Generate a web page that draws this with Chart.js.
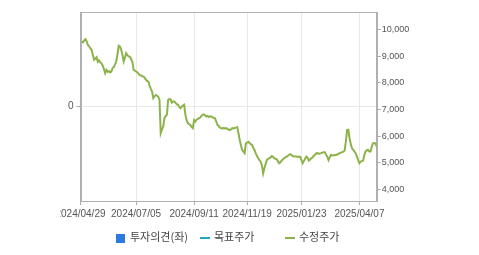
<!DOCTYPE html>
<html>
<head>
<meta charset="utf-8">
<script src="https://cdn.jsdelivr.net/npm/chart.js@4"></script>
<style>
  body { margin: 0; background: #fff; }
  #wrap { position: relative; width: 479px; height: 255px; }
  #myChart { position: absolute; left: 0; top: 0; clip-path: inset(0 0 0 60px); }
  .lg { position: absolute; top: 228px; font: 11px "Noto Sans CJK KR", sans-serif; color: #444; white-space: nowrap; line-height: 16px; }
  .lg i { display: inline-block; vertical-align: middle; margin-right: 5px; }
</style>
</head>
<body>
<div id="wrap">
  <canvas id="myChart" width="479" height="255"></canvas>
</div>
<script>
// x axis labels (trading-day index -> date)
let tickIdx = [0, 45, 92, 135, 179, 226];
let tickLabels = ["2024/04/29", "2024/07/05", "2024/09/11", "2024/11/19", "2025/01/23", "2025/04/07"];
let priceTicks = [4000, 5000, 6000, 7000, 8000, 9000, 10000];
let seriesNames = ["투자의견(좌)", "목표주가", "수정주가"];
let seriesColors = ["#2a7ae2", "#1fa8b8", "#8cb34a"];

// 수정주가, one value per trading day
let price = [
  9500, 9560, 9530, 9600, 9650, 9560, 9430, 9380, 9300, 9250,
  9050, 8870, 8920, 8970, 8800, 8850, 8780, 8740, 8650, 8520,
  8370, 8490, 8420, 8450, 8400, 8430, 8560, 8600, 8700, 8810,
  9100, 9400, 9370, 9250, 9060, 8810, 8950, 9120, 9050, 9000,
  8990, 8900, 8810, 8500, 8470, 8430, 8400, 8350, 8300, 8280,
  8260, 8240, 8200, 8120, 8080, 8050, 7900, 7780, 7680, 7430,
  7500, 7550, 7520, 7490, 7360, 6110, 6250, 6360, 6670, 6760,
  6800, 7360, 7400, 7380, 7260, 7300, 7300, 7250, 7200, 7180,
  7100, 7050, 7110, 7150, 7180, 6800, 6600, 6490, 6450, 6420,
  6350, 6300, 6600, 6550, 6620, 6650, 6670, 6700, 6760, 6800,
  6820, 6780, 6740, 6760, 6720, 6750, 6740, 6710, 6690, 6670,
  6550, 6420, 6380, 6320, 6300, 6280, 6310, 6290, 6300, 6270,
  6250, 6230, 6260, 6300, 6290, 6310, 6320, 6340, 6110, 5860,
  5650, 5480, 5420, 5360, 5730, 5760, 5790, 5740, 5700, 5670,
  5560, 5480, 5350, 5250, 5170, 5100, 5040, 4900, 4600, 4790,
  4950, 5100, 5150, 5170, 5200, 5250, 5220, 5170, 5150, 5130,
  5050, 4980, 5020, 5080, 5130, 5170, 5200, 5230, 5260, 5300,
  5320, 5290, 5250, 5240, 5230, 5230, 5220, 5230, 5220, 5100,
  4980, 5060, 5150, 5230, 5180, 5080, 5120, 5170, 5200, 5260,
  5300, 5350, 5360, 5340, 5350, 5360, 5380, 5390, 5390, 5300,
  5230, 5100, 5200, 5290, 5280, 5270, 5290, 5290, 5310, 5330,
  5360, 5380, 5400, 5420, 5450, 5790, 6230, 6240, 5920, 5700,
  5540, 5480, 5420, 5350, 5230, 5100, 4980, 5040, 5060, 5080,
  5300, 5420, 5470, 5480, 5420, 5420, 5600, 5730, 5740, 5730,
  5600
];

let points = price.map((v, i) => ({ x: i, y: v }));

// box around the plot area
const frame = {
  id: "frame",
  afterDraw(chart) {
    const a = chart.chartArea, c = chart.ctx;
    c.save();
    c.strokeStyle = "#b0b0b0";
    c.lineWidth = 1;
    c.strokeRect(Math.round(a.left) + 0.5, Math.round(a.top) + 0.5, Math.round(a.right - a.left), Math.round(a.bottom - a.top));
    c.restore();
  }
};

var ctx = document.getElementById("myChart").getContext("2d");
var myChart = new Chart(ctx, {
  type: "line",
  data: {
    datasets: [
      {
        label: seriesNames[2],
        data: points,
        yAxisID: "y1",
        borderColor: seriesColors[2],
        borderWidth: 2,
        pointRadius: 0,
        tension: 0,
      },
    ],
  },
  options: {
    responsive: false,
    animation: false,
    layout: { padding: { top: 12, left: 0, right: 0, bottom: 0 } },
    plugins: { legend: { display: false }, tooltip: { enabled: false } },
    scales: {
      x: {
        type: "linear",
        min: 0,
        max: price.length - 1,
        afterBuildTicks: (s) => { s.ticks = tickIdx.map((v) => ({ value: v })); },
        afterFit: (s) => { s.height = 54; },
        ticks: {
          autoSkip: false,
          maxRotation: 0,
          padding: 3,
          color: "#555",
          font: { family: "Liberation Sans", size: 10 },
          callback: (v) => tickLabels[tickIdx.indexOf(v)],
        },
        grid: { color: "#e8e8e8", tickColor: "#aaa", tickLength: 4 },
        border: { color: "#b0b0b0" },
      },
      y: {
        position: "left",
        min: -1,
        max: 1,
        afterBuildTicks: (s) => { s.ticks = [{ value: 0 }]; },
        afterFit: (s) => { s.width = 80.5; },
        ticks: { padding: 3, color: "#555", font: { family: "Liberation Sans", size: 10 } },
        grid: { color: "#e8e8e8", tickColor: "#aaa", tickLength: 4 },
        border: { color: "#b0b0b0" },
      },
      y1: {
        position: "right",
        min: 3560,
        max: 10670,
        afterBuildTicks: (s) => { s.ticks = priceTicks.map((v) => ({ value: v })); },
        afterFit: (s) => { s.width = 102.3; },
        ticks: {
          padding: 1,
          color: "#555",
          font: { family: "Liberation Sans", size: 9 },
          callback: (v) => v.toLocaleString("en-US"),
        },
        grid: { drawOnChartArea: false, tickColor: "#aaa", tickLength: 4 },
        border: { color: "#b0b0b0" },
      },
    },
  },
  plugins: [frame],
});

// legend
let legendX = [116, 200, 285];
let wrap = document.getElementById("wrap");
seriesNames.forEach((name, k) => {
  let d = document.createElement("div");
  d.className = "lg";
  d.style.left = legendX[k] + "px";
  let mark = k === 0
    ? '<i style="width:9px;height:9px;background:' + seriesColors[k] + '"></i>'
    : '<i style="width:10px;height:2px;background:' + seriesColors[k] + ';margin-right:4px"></i>';
  d.innerHTML = mark + name;
  wrap.appendChild(d);
});
</script>
</body>
</html>
